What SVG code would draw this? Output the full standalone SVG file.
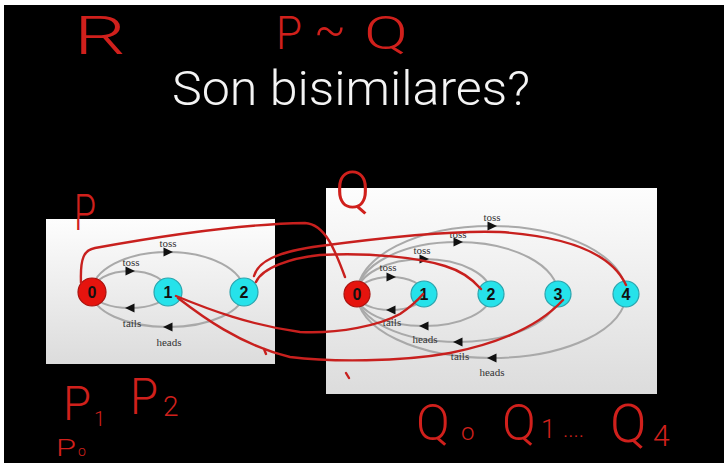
<svg xmlns="http://www.w3.org/2000/svg" width="725" height="463" viewBox="0 0 725 463">
<defs>
<linearGradient id="pg" x1="0" y1="0" x2="0" y2="1">
<stop offset="0" stop-color="#fdfdfd"/>
<stop offset="1" stop-color="#dcdcdc"/>
</linearGradient>
<path id="arr" d="M5,0 L-4.5,-4.5 L-4.5,4.5 Z" fill="#111"/>
<style>
.edge{fill:none;stroke:#a9a9a9;stroke-width:2}
.lbl{font-family:"Liberation Serif","DejaVu Serif",serif;font-size:11px;fill:#333;text-anchor:middle}
.n0{fill:#e5140e;stroke:#a8120e;stroke-width:1.2}
.n1{fill:#26e2ea;stroke:#2aa4ad;stroke-width:1.2}
.nt{font-family:"Liberation Sans",Arial,sans-serif;font-size:16px;font-weight:bold;fill:#111;text-anchor:middle}
.red{fill:none;stroke:#c8201e;stroke-width:2.4;stroke-linecap:round}
.hw{font-family:Roboto,"Liberation Sans",sans-serif;font-weight:300;fill:#d0201c}
.title{font-family:Roboto,"Liberation Sans",sans-serif;font-weight:300;font-size:48px;fill:#f4f4f4}
</style>
</defs>
<rect x="0" y="0" width="725" height="463" fill="#ffffff"/>
<rect x="4" y="5" width="720" height="458" fill="#000"/>
<text class="title" x="172" y="105" textLength="358" lengthAdjust="spacingAndGlyphs">Son bisimilares?</text>

<!-- Left panel -->
<g id="panelP">
<rect x="46" y="219" width="229" height="145" fill="url(#pg)"/>
</g>
<!-- Right panel -->
<g id="panelQ">
<rect x="326" y="188" width="331" height="206" fill="url(#pg)"/>
</g>

<g id="connectors">
<!-- left panel -->
<path class="edge" d="M92,292 A38,21 0 0 1 168,292"/>
<path class="edge" d="M168,292 A38,16 0 0 1 92,292"/>
<path class="edge" d="M92,292 A76,40 0 0 1 244,292"/>
<path class="edge" d="M244,292 A76,35 0 0 1 92,292"/>
<use href="#arr" transform="translate(130,271)"/>
<use href="#arr" transform="translate(168,252)"/>
<use href="#arr" transform="translate(130,308) rotate(180)"/>
<use href="#arr" transform="translate(168,327) rotate(180)"/>
<text class="lbl" x="131" y="266">toss</text>
<text class="lbl" x="168" y="247">toss</text>
<text class="lbl" x="132" y="327">tails</text>
<text class="lbl" x="169" y="346">heads</text>
<!-- right panel -->
<path class="edge" d="M357,294 A33.5,17 0 0 1 424,294"/>
<path class="edge" d="M424,294 A33.5,16 0 0 1 357,294"/>
<path class="edge" d="M357,294 A67,35 0 0 1 491,294"/>
<path class="edge" d="M491,294 A67,32 0 0 1 357,294"/>
<path class="edge" d="M357,294 A100.5,52 0 0 1 558,294"/>
<path class="edge" d="M558,294 A100.5,48 0 0 1 357,294"/>
<path class="edge" d="M357,294 A134.5,68 0 0 1 626,294"/>
<path class="edge" d="M626,294 A134.5,64 0 0 1 357,294"/>
<use href="#arr" transform="translate(391,277)"/>
<use href="#arr" transform="translate(424,259)"/>
<use href="#arr" transform="translate(458,242)"/>
<use href="#arr" transform="translate(492,226)"/>
<use href="#arr" transform="translate(391,310) rotate(180)"/>
<use href="#arr" transform="translate(424,326) rotate(180)"/>
<use href="#arr" transform="translate(458,342) rotate(180)"/>
<use href="#arr" transform="translate(492,358) rotate(180)"/>
<text class="lbl" x="388" y="271">toss</text>
<text class="lbl" x="422" y="254">toss</text>
<text class="lbl" x="458" y="238">toss</text>
<text class="lbl" x="492" y="221">toss</text>
<text class="lbl" x="392" y="326">tails</text>
<text class="lbl" x="425" y="343">heads</text>
<text class="lbl" x="460" y="360">tails</text>
<text class="lbl" x="492" y="376">heads</text>
</g>

<g id="P0"><circle class="n0" cx="92" cy="292" r="14"/><text class="nt" x="92" y="298">0</text></g>
<g id="P1"><circle class="n1" cx="168" cy="292" r="14"/><text class="nt" x="168" y="298">1</text></g>
<g id="P2"><circle class="n1" cx="244" cy="292" r="14"/><text class="nt" x="244" y="298">2</text></g>
<g id="Q0"><circle class="n0" cx="357" cy="294" r="13"/><text class="nt" x="357" y="300">0</text></g>
<g id="Q1"><circle class="n1" cx="424" cy="294" r="13"/><text class="nt" x="424" y="300">1</text></g>
<g id="Q2"><circle class="n1" cx="491" cy="294" r="13"/><text class="nt" x="491" y="300">2</text></g>
<g id="Q3"><circle class="n1" cx="558" cy="294" r="13"/><text class="nt" x="558" y="300">3</text></g>
<g id="Q4"><circle class="n1" cx="626" cy="294" r="13"/><text class="nt" x="626" y="300">4</text></g>

<g id="annotations">
<path class="red" d="M81,283 C80,258 84,250 95,248 C150,238 240,224 305,223 C325,224 335,250 345,277"/>
<path class="red" d="M254,276 C258,262 275,252 320,246 C380,238 450,230 500,232 C560,236 610,250 626,285"/>
<path class="red" d="M256,282 C262,268 290,258 320,255 C370,252 420,258 445,266 C465,272 475,282 481,289"/>
<path class="red" d="M176,296 C210,310 250,325 300,332 C340,334 380,325 400,314 C412,306 418,300 423,294"/>
<path class="red" d="M178,298 C200,315 240,345 290,357 C330,362 400,362 450,353 C500,343 540,325 563,300"/>
<path class="red" d="M264,349 L266,354"/>
<path class="red" d="M346,373 L349,378"/>
<text class="hw" x="74" y="54" font-size="54" textLength="52" lengthAdjust="spacingAndGlyphs">R</text>
<text class="hw" x="276" y="49" font-size="46" textLength="26" lengthAdjust="spacingAndGlyphs">P</text>
<text class="hw" x="314" y="46" font-size="50" textLength="32" lengthAdjust="spacingAndGlyphs">~</text>
<text class="hw" x="364" y="49" font-size="46" textLength="44" lengthAdjust="spacingAndGlyphs">Q</text>
<text class="hw" x="74" y="230" font-size="50" textLength="22" lengthAdjust="spacingAndGlyphs">P</text>
<text class="hw" x="335" y="208" font-size="52">Q</text>
<text class="hw" x="63" y="420" font-size="48" textLength="28" lengthAdjust="spacingAndGlyphs">P</text>
<text class="hw" x="94" y="426" font-size="20">1</text>
<text class="hw" x="130" y="414" font-size="50" textLength="28" lengthAdjust="spacingAndGlyphs">P</text>
<text class="hw" x="163" y="416" font-size="28">2</text>
<text class="hw" x="56" y="456" font-size="24" textLength="20" lengthAdjust="spacingAndGlyphs">P</text>
<text class="hw" x="78" y="456" font-size="14">o</text>
<text class="hw" x="416" y="440" font-size="50">Q</text>
<text class="hw" x="461" y="440" font-size="24">o</text>
<text class="hw" x="502" y="440" font-size="50">Q</text>
<text class="hw" x="541" y="438" font-size="26">1</text>
<text class="hw" x="563" y="437" font-size="22" fill="#7a1414">....</text>
<text class="hw" x="610" y="442" font-size="54">Q</text>
<text class="hw" x="653" y="446" font-size="30">4</text>
</g>
</svg>
